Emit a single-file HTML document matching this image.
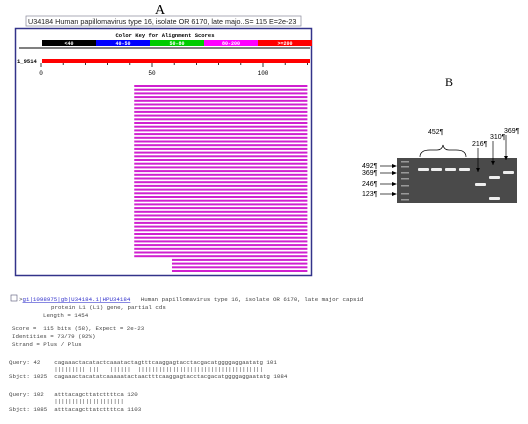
<!DOCTYPE html>
<html><head><meta charset="utf-8"><style>
body{margin:0;width:528px;height:419px;background:#fff;overflow:hidden;font-family:"Liberation Sans",sans-serif}
.mono{font-family:"Liberation Mono",monospace;font-size:5.8px;fill:#444;white-space:pre}
</style></head><body>
<svg width="528" height="419" xmlns="http://www.w3.org/2000/svg">
<text x="160" y="14" font-family="Liberation Serif" font-size="14" text-anchor="middle">A</text>
<rect x="26" y="16" width="275" height="10" fill="#fff" stroke="#889" stroke-width="0.7"/>
<text x="28" y="24" font-size="7.2" fill="#222">U34184 Human papillomavirus type 16, isolate OR 6170, late majo..S= 115 E=2e-23</text>
<rect x="15.5" y="28.5" width="296" height="247" fill="#fff" stroke="#33338a" stroke-width="1.5"/>
<text x="165" y="37" font-size="5.5" font-family="Liberation Mono" font-weight="bold" text-anchor="middle">Color Key for Alignment Scores</text>
<g id="key"></g>
<line x1="19" y1="48" x2="310" y2="48" stroke="#000" stroke-width="1"/>
<text x="17" y="63" font-size="5.5" font-family="Liberation Mono" font-weight="bold">1_9514</text>
<rect x="42" y="59" width="268" height="4" fill="#f00"/>
<g id="axis"></g>
<g id="hits"></g>
<text x="449" y="86" font-family="Liberation Serif" font-size="12" text-anchor="middle">B</text>
<g id="gel"></g>
<rect x="11" y="295" width="6" height="6" fill="#fff" stroke="#557" stroke-width="0.6"/>
<text x="19" y="301" class="mono">&gt;<tspan fill="#33c" text-decoration="underline">gi|1098975|gb|U34184.1|HPU34184</tspan>   Human papillomavirus type 16, isolate OR 6170, late major capsid</text>
<text x="51" y="309" class="mono">protein L1 (L1) gene, partial cds</text>
<text x="43" y="317" class="mono">Length = 1454</text>
<text x="12" y="330" class="mono">Score =  115 bits (58), Expect = 2e-23</text>
<text x="12" y="338" class="mono">Identities = 73/79 (92%)</text>
<text x="12" y="346" class="mono">Strand = Plus / Plus</text>
<text x="9" y="364" class="mono">Query: 42    cagaaactacatactcaaatactagtttcaaggagtacctacgacatggggaggaatatg 101</text>
<text x="9" y="371" class="mono">             ||||||||| |||   ||||||  ||||||||||||||||||||||||||||||||||||</text>
<text x="9" y="378" class="mono">Sbjct: 1025  cagaaactacatatcaaaaatactaactttcaaggagtacctacgacatggggaggaatatg 1084</text>
<text x="9" y="396" class="mono">Query: 102   atttacagcttatcttttca 120</text>
<text x="9" y="403" class="mono">             ||||||||||||||||||||</text>
<text x="9" y="411" class="mono">Sbjct: 1085  atttacagcttatcttttca 1103</text>
</svg>
<script>
const keyLabels=["<40","40-50","50-80","80-200",">=200"];
const keyColors=["#000","#00f","#0c0","#f0f","#f00"];
const axisTicks=[0,50,100];
const hitStarts=[42,42,42,42,42,42,42,42,42,42,42,42,42,42,42,42,42,42,42,42,42,42,42,42,42,42,42,42,42,42,42,42,42,42,42,42,42,42,42,42,42,42,42,42,42,42,42,59,59,59,59];
const hitEnds=hitStarts.map(()=>120);
const ns="http://www.w3.org/2000/svg";
function mk(t,a,p){const e=document.createElementNS(ns,t);for(const k in a)e.setAttribute(k,a[k]);p.appendChild(e);return e;}
const xs=v=>41+v*2.22;
const key=document.getElementById('key');
keyLabels.forEach((l,i)=>{const r=mk('rect',{x:42+i*54,y:40,width:54,height:6,fill:keyColors[i]},key);


const t=mk('text',{x:69+i*54,y:45,'font-size':5,'font-family':'Liberation Mono','font-weight':'bold','text-anchor':'middle',fill:'#fff'},key);t.textContent=l;

});
const ax=document.getElementById('axis');
for(let v=0;v<=120;v+=10){mk('line',{x1:xs(v),y1:63,x2:xs(v),y2:v%50?65:67,stroke:'#000','stroke-width':0.8},ax);}
axisTicks.forEach(v=>{const t=mk('text',{x:xs(v),y:75,'font-size':6,'font-family':'Liberation Mono','text-anchor':'middle'},ax);t.textContent=v;

});
const hits=document.getElementById('hits');
hitStarts.forEach((s,i)=>{const r=mk('rect',{x:xs(s),y:85+i*3.7,width:xs(hitEnds[i])-xs(s),height:2,fill:'#d020d0'},hits);

});
const g=document.getElementById('gel');
mk('rect',{x:397,y:158,width:120,height:45,fill:'#4a4a4a'},g);
[[401,161],[401,166],[401,172],[401,178],[401,185],[401,193],[401,199]].forEach(p=>mk('rect',{x:p[0],y:p[1],width:8,height:1.5,fill:'#999'},g));
const bands=[[418,168],[431,168],[445,168],[459,168],[475,183],[489,176],[503,171],[489,197]];
bands.forEach(b=>{const r=mk('rect',{x:b[0],y:b[1],width:11,height:3,fill:'#eee',rx:1},g);

});
[["492",166],["369",173],["246",184],["123",194]].forEach(m=>{const t=mk('text',{x:362,y:m[1]+2,'font-size':7},g);t.textContent=m[0]+"¶";
mk('line',{x1:380,y1:m[1],x2:395,y2:m[1],stroke:'#000','stroke-width':0.7},g);
mk('path',{d:`M392 ${m[1]-2}L397 ${m[1]}L392 ${m[1]+2}Z`},g);});
[["452",428,134],["216",472,146],["310",490,139],["369",504,133]].forEach(l=>{const t=mk('text',{x:l[1],y:l[2],'font-size':7},g);t.textContent=l[0]+"¶";});
mk('path',{d:'M420 157Q420 150 430 150L437 150Q442 150 443 145Q444 150 449 150L456 150Q466 150 466 157',fill:'none',stroke:'#000','stroke-width':0.7},g);
[[478,148,172],[493,141,165],[506,135,160]].forEach(a=>{mk('line',{x1:a[0],y1:a[1],x2:a[0],y2:a[2],stroke:'#000','stroke-width':0.7},g);
mk('path',{d:`M${a[0]-2} ${a[2]-4}L${a[0]} ${a[2]}L${a[0]+2} ${a[2]-4}Z`},g);});
</script>
</body></html>
